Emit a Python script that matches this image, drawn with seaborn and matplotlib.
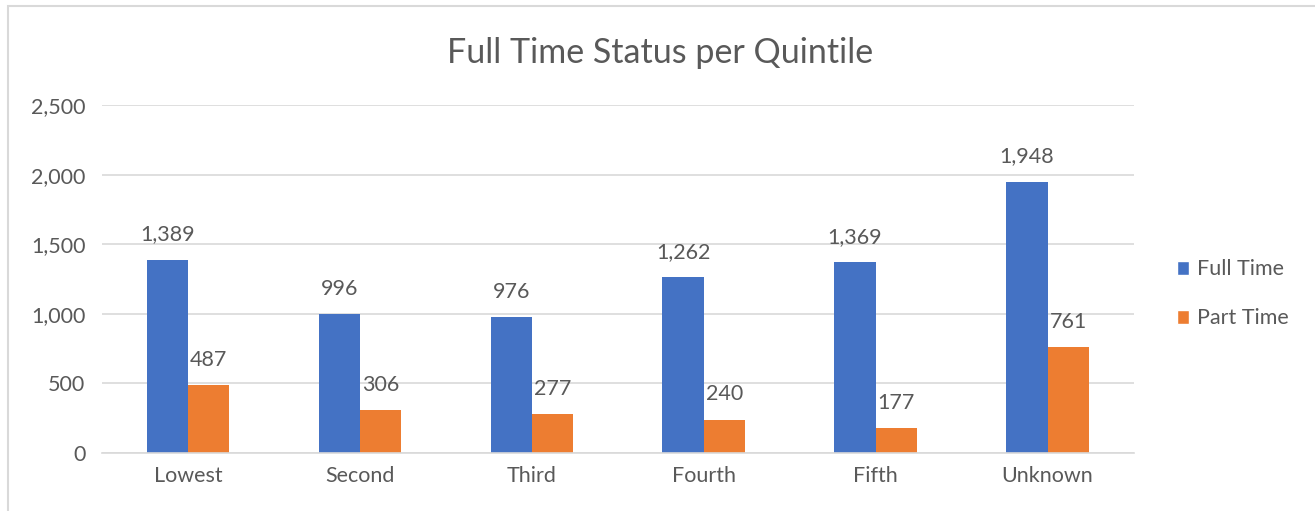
import pandas as pd
import matplotlib.pyplot as plt
import seaborn as sns
from matplotlib.patches import Patch, Rectangle

# datos
quintiles = ['Lowest', 'Second', 'Third', 'Fourth', 'Fifth', 'Unknown']
full_time = [1389, 996, 976, 1262, 1369, 1948]
part_time = [487, 306, 277, 240, 177, 761]
series = ['Full Time', 'Part Time']
colores = ['#4472C4', '#ED7D31']

df = pd.DataFrame({
    'Quintile': quintiles * 2,
    'Status': [series[0]] * len(quintiles) + [series[1]] * len(quintiles),
    'Count': full_time + part_time,
})

sns.set_style('white')
plt.rcParams['font.family'] = ['Lato', 'DejaVu Sans']
gris = '#595959'

fig = plt.figure(figsize=(13.15, 5.11), dpi=100)
ax = fig.add_axes([0.0776, 0.1135, 0.7844, 0.681])

sns.barplot(data=df, x='Quintile', y='Count', hue='Status', order=quintiles,
            hue_order=series, palette=colores, width=0.48, gap=0,
            saturation=1, legend=False, linewidth=0, ax=ax)

ax.set_ylim(0, 2500)
ax.set_xlim(-0.5, len(quintiles) - 0.5)
ax.set_yticks(range(0, 2501, 500))
ax.set_yticklabels([f'{v:,}' for v in range(0, 2501, 500)])
ax.yaxis.grid(True, color='#d9d9d9', linewidth=1.2)
ax.set_axisbelow(True)
for s in ['top', 'right', 'left']:
    ax.spines[s].set_visible(False)
ax.spines['bottom'].set_color('#d9d9d9')
ax.spines['bottom'].set_linewidth(1.2)
ax.tick_params(axis='both', length=0, labelsize=15.5, colors=gris, pad=12)
ax.tick_params(axis='x', pad=9)
ax.set_xlabel('')
ax.set_ylabel('')

for cont in ax.containers:
    ax.bar_label(cont, labels=[f'{int(v):,}' for v in cont.datavalues],
                 padding=11, fontsize=15.5, color=gris)

fig.text(0.502, 0.897, 'Full Time Status per Quintile', ha='center', va='center',
         fontsize=24.5, color=gris)

handles = [Patch(facecolor=c, label=l) for c, l in zip(colores, series)]
fig.legend(handles=handles, loc='center left', bbox_to_anchor=(0.88, 0.425),
           frameon=False, fontsize=15.5, labelcolor=gris, handlelength=0.6,
           handleheight=0.6, handletextpad=0.35, labelspacing=1.35)

# marco del gráfico
fig.patches.append(Rectangle((0.006, -0.01), 1.0, 0.998, transform=fig.transFigure,
                             fill=False, edgecolor='#d9d9d9', linewidth=1.5))

fig.savefig('out.png', dpi=100)
